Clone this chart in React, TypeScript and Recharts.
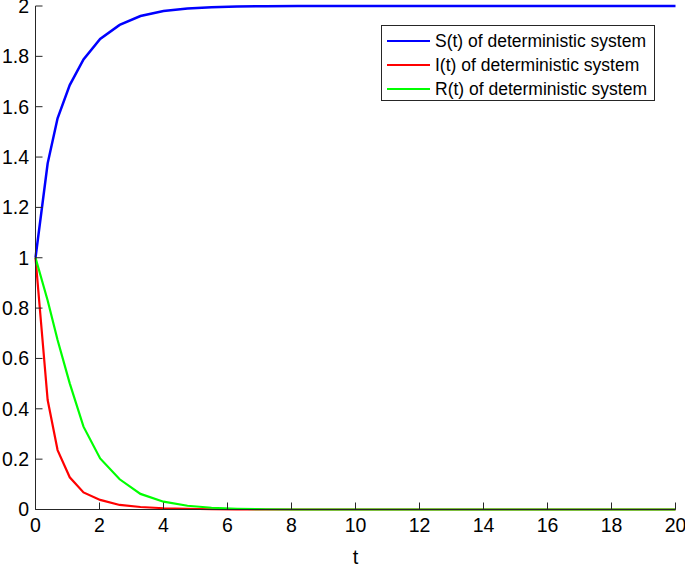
import { LineChart, Line, XAxis, YAxis, Legend } from 'recharts';

// time points of the ODE solver
const T = [0, 0.38, 0.69, 1.07, 1.5, 2.02, 2.63, 3.28, 4.0, 4.75, 5.5, 6.3, 7.2, 8.2, 9.5, 11, 13, 15, 17.5, 20];
const S_VALUES = [1, 1.375, 1.554, 1.686, 1.788, 1.869, 1.925, 1.96, 1.98, 1.99, 1.995, 1.998, 1.999, 2, 2, 2, 2, 2, 2, 2];
const I_VALUES = [1, 0.435, 0.236, 0.128, 0.068, 0.038, 0.018, 0.01, 0.005, 0.003, 0.001, 0.0005, 0, 0, 0, 0, 0, 0, 0, 0];
const R_VALUES = [1, 0.83, 0.673, 0.501, 0.329, 0.203, 0.12, 0.062, 0.031, 0.015, 0.007, 0.003, 0.001, 0, 0, 0, 0, 0, 0, 0];

const SERIES_NAMES = ['S(t) of deterministic system', 'I(t) of deterministic system', 'R(t) of deterministic system'];

const X_TICKS = [0, 2, 4, 6, 8, 10, 12, 14, 16, 18, 20];
const Y_TICKS = [0, 0.2, 0.4, 0.6, 0.8, 1, 1.2, 1.4, 1.6, 1.8, 2];

const data = T.map((t, i) => ({ t, S: S_VALUES[i], I: I_VALUES[i], R: R_VALUES[i] }));

const FONT = 'Arial, "Liberation Sans", Helvetica, sans-serif';
const AXIS = '#262626';

function LegendBox({ payload }: any) {
  const items = [...(payload || [])].sort(
    (a: any, b: any) => SERIES_NAMES.indexOf(a.value) - SERIES_NAMES.indexOf(b.value)
  );
  return (
    <div
      style={{
        border: `1px solid ${AXIS}`,
        background: '#fff',
        width: 274,
        height: 76,
        paddingTop: 3,
        boxSizing: 'border-box',
        fontFamily: FONT,
        fontSize: 17.5,
        color: '#000',
      }}
    >
      {items.map((p: any) => (
        <div key={p.value} style={{ display: 'flex', alignItems: 'center', height: 24 }}>
          <span style={{ display: 'inline-block', width: 43, height: 2.5, background: p.color, marginLeft: 5 }} />
          <span style={{ marginLeft: 5, whiteSpace: 'nowrap' }}>{p.value}</span>
        </div>
      ))}
    </div>
  );
}

export default function App() {
  const tickStyle = { fill: '#000', fontSize: 19.5, fontFamily: FONT };
  return (
    <div style={{ position: 'absolute', left: 0, top: 0, background: '#fff' }}>
      <LineChart width={685} height={568} data={data} margin={{ top: 6, right: 9.5, bottom: 0, left: 0 }}>
        <XAxis
          xAxisId="bottom"
          dataKey="t"
          type="number"
          domain={[0, 20]}
          ticks={X_TICKS}
          interval={0}
          height={58.5}
          tick={tickStyle}
          tickSize={-7}
          tickMargin={16}
          stroke={AXIS}
          label={{ value: 't', position: 'insideBottom', offset: 4, fill: '#000', fontSize: 20, fontFamily: FONT }}
        />
        <XAxis
          xAxisId="top"
          dataKey="t"
          type="number"
          orientation="top"
          domain={[0, 20]}
          ticks={X_TICKS}
          interval={0}
          height={0}
          mirror
          tick={false}
          tickSize={7}
          stroke={AXIS}
        />
        <YAxis
          yAxisId="left"
          type="number"
          domain={[0, 2]}
          ticks={Y_TICKS}
          interval={0}
          width={35.5}
          tick={tickStyle}
          tickSize={-7}
          tickMargin={13.5}
          stroke={AXIS}
        />
        <YAxis
          yAxisId="right"
          type="number"
          orientation="right"
          domain={[0, 2]}
          ticks={Y_TICKS}
          interval={0}
          width={0}
          mirror
          tick={false}
          tickSize={7}
          stroke={AXIS}
        />
        <Legend
          layout="vertical"
          align="center"
          verticalAlign="middle"
          wrapperStyle={{ left: 381, top: 25, width: 276 }}
          content={<LegendBox />}
        />
        <Line xAxisId="bottom" yAxisId="left" type="linear" dataKey="S" name={SERIES_NAMES[0]} stroke="#0000ff" strokeWidth={2.5} dot={false} isAnimationActive={false} />
        <Line xAxisId="bottom" yAxisId="left" type="linear" dataKey="I" name={SERIES_NAMES[1]} stroke="#ff0000" strokeWidth={2.2} dot={false} isAnimationActive={false} />
        <Line xAxisId="bottom" yAxisId="left" type="linear" dataKey="R" name={SERIES_NAMES[2]} stroke="#00ff00" strokeWidth={2.2} dot={false} isAnimationActive={false} />
      </LineChart>
    </div>
  );
}
